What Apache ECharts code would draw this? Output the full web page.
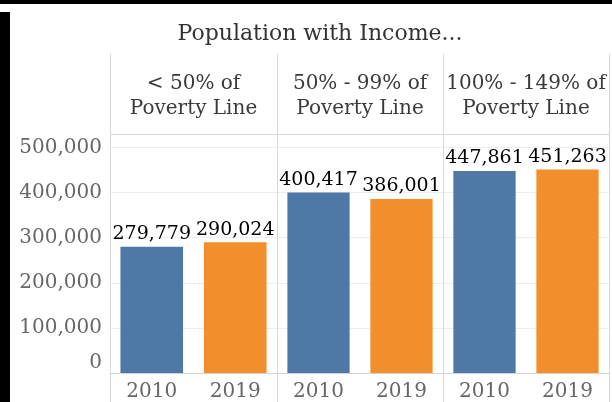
<!DOCTYPE html>
<html>
<head>
<meta charset="utf-8">
<script src="https://cdn.jsdelivr.net/npm/echarts@6/dist/echarts.min.js"></script>
<style>
html,body{margin:0;padding:0;background:#fff;}
#wrap{position:relative;width:612px;height:402px;overflow:hidden;}
#chart{position:absolute;left:0;top:0;width:612px;height:402px;}
.bk{position:absolute;background:#000;}
</style>
</head>
<body>
<div id="wrap">
<div id="chart"></div>
<div class="bk" style="left:0;top:0;width:612px;height:4px;"></div>
<div class="bk" style="left:0;top:12px;width:10px;height:390px;"></div>
</div>
<script>
const titleText = 'Population with Income...';
const panes = ['< 50% of\nPoverty Line', '50% - 99% of\nPoverty Line', '100% - 149% of\nPoverty Line'];
const years = ['2010', '2019'];
const values2010 = [279779, 400417, 447861];
const values2019 = [290024, 386001, 451263];
const yTicks = [0, 100000, 200000, 300000, 400000, 500000];

const colors = ['#4e79a7', '#f28e2b'];
const FONT = 'DejaVu Serif';
const paneLeft = [110, 277, 443];
const paneWidth = [167, 166, 166];
const gridTop = 134, gridBottom = 29;

function fmt(v) { return v.toLocaleString('en-US'); }

const grids = [], xAxes = [], yAxes = [], series = [];
panes.forEach((p, i) => {
  grids.push({ left: paneLeft[i], width: paneWidth[i], top: gridTop, bottom: gridBottom, containLabel: false });
  xAxes.push({
    type: 'category', gridIndex: i, data: years, position: 'bottom',
    axisLine: { show: true, lineStyle: { color: '#d4d4d4', width: 1 } },
    axisTick: { show: false },
    axisLabel: { fontFamily: FONT, fontSize: 20, color: '#666', margin: 9 }
  });
  xAxes.push({
    type: 'category', gridIndex: i, data: [p], position: 'top',
    axisLine: { show: false }, axisTick: { show: false },
    axisLabel: { fontFamily: FONT, fontSize: 20, color: '#3a3a3a', margin: 13, lineHeight: 25, align: 'center' }
  });
  yAxes.push({
    type: 'value', gridIndex: i, min: 0, max: 530000, interval: 100000,
    axisLine: { show: false }, axisTick: { show: false },
    splitLine: { show: true, lineStyle: { color: '#ededed', width: 1 } },
    axisLabel: {
      show: i === 0, fontFamily: FONT, fontSize: 20, color: '#666', margin: 8,
      verticalAlignMinLabel: 'bottom',
      formatter: v => (yTicks.indexOf(v) >= 0 ? fmt(v) : '')
    }
  });
  series.push({
    type: 'bar', xAxisIndex: i * 2, yAxisIndex: i, barCategoryGap: '25%',
    data: [
      { value: values2010[i], itemStyle: { color: colors[0] } },
      { value: values2019[i], itemStyle: { color: colors[1] } }
    ],
    label: { show: true, position: 'top', distance: 3, fontFamily: FONT, fontSize: 19, color: '#000', formatter: d => fmt(d.value) }
  });
});

const lineStyle = { stroke: '#d8d8d8', lineWidth: 1 };
const graphics = [];
paneLeft.concat([paneLeft[2] + paneWidth[2]]).forEach(x => {
  graphics.push({ type: 'line', shape: { x1: x + 0.5, y1: 54, x2: x + 0.5, y2: 402 }, style: lineStyle, silent: true, z: 10 });
});
graphics.push({ type: 'line', shape: { x1: paneLeft[0], y1: gridTop + 0.5, x2: paneLeft[2] + paneWidth[2], y2: gridTop + 0.5 }, style: lineStyle, silent: true, z: 10 });

const chart = echarts.init(document.getElementById('chart'), null, { renderer: 'canvas' });
chart.setOption({
  animation: false,
  backgroundColor: '#fff',
  title: { text: titleText, left: 315, top: 18, textAlign: 'center', textStyle: { fontFamily: FONT, fontSize: 22, fontWeight: 'normal', color: '#333' } },
  grid: grids, xAxis: xAxes, yAxis: yAxes, series: series,
  graphic: graphics
});
</script>
</body>
</html>
